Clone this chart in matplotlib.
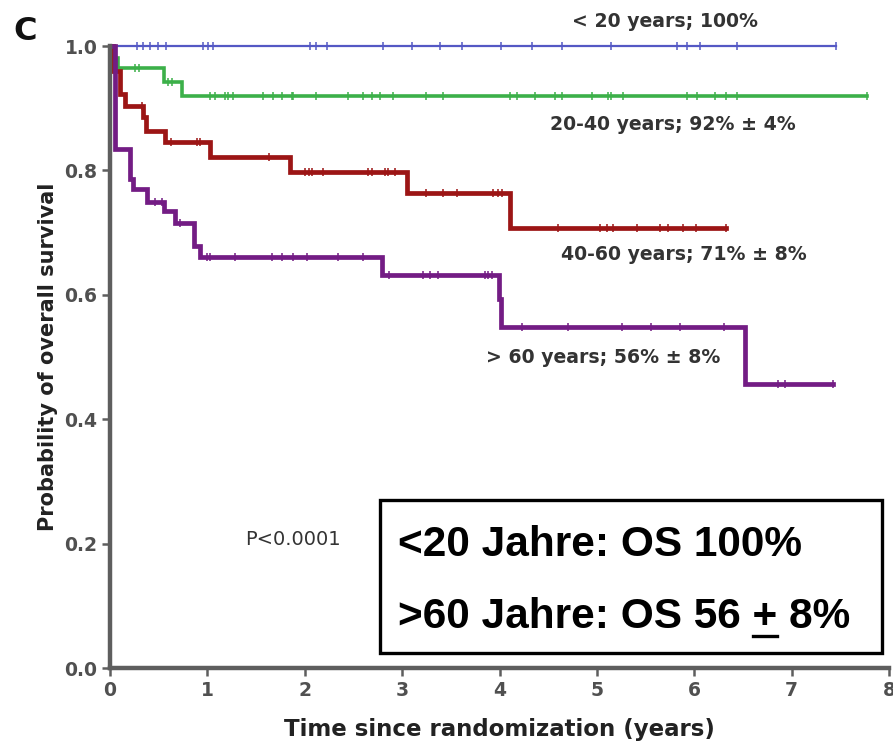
import numpy as np
import matplotlib
matplotlib.use('Agg')
import matplotlib.pyplot as plt
from matplotlib.patches import Rectangle
from matplotlib.lines import Line2D

# Kaplan-Meier steps (time in years, survival)
blue_t = [0, 7.46]
blue_s = [1.0, 1.0]
blue_cens = [0.28, 0.34, 0.41, 0.49, 0.58, 0.96, 1.01, 1.06, 2.05, 2.12, 2.23, 2.80,
             3.10, 3.39, 3.61, 4.02, 4.33, 4.64, 5.15, 5.82, 5.93, 6.06, 6.44, 7.46]

green_t = [0, 0.04, 0.08, 0.55, 0.74, 7.77]
green_s = [1.0, 0.98, 0.965, 0.942, 0.919, 0.919]
green_cens = [0.26, 0.30, 0.60, 0.64, 1.03, 1.08, 1.18, 1.21, 1.26, 1.57, 1.67, 1.77,
              1.87, 1.88, 2.12, 2.44, 2.60, 2.69, 2.77, 2.91, 3.25, 3.42, 4.11, 4.18,
              4.36, 4.57, 4.64, 4.95, 5.11, 5.15, 5.27, 5.93, 6.03, 6.21, 6.33, 6.44, 7.77]

red_t = [0, 0.03, 0.10, 0.15, 0.34, 0.37, 0.56, 1.03, 1.85, 3.05, 4.11, 6.33]
red_s = [1.0, 0.96, 0.923, 0.903, 0.886, 0.863, 0.845, 0.821, 0.797, 0.763, 0.708, 0.708]
red_cens = [0.33, 0.63, 0.89, 0.92, 1.63, 2.00, 2.04, 2.07, 2.19, 2.65, 2.69, 2.82,
            2.86, 2.93, 3.25, 3.42, 3.56, 3.93, 3.98, 4.03, 4.60, 5.03, 5.10, 5.17,
            5.41, 5.65, 5.73, 5.88, 6.02, 6.33]

purple_t = [0, 0.05, 0.21, 0.24, 0.38, 0.55, 0.67, 0.86, 0.92, 2.79, 3.99, 4.02, 6.52, 7.42]
purple_s = [1.0, 0.834, 0.786, 0.770, 0.750, 0.734, 0.716, 0.678, 0.660, 0.632, 0.593,
            0.548, 0.456, 0.456]
purple_cens = [0.46, 0.53, 0.72, 1.00, 1.03, 1.28, 1.66, 1.77, 1.88, 2.02, 2.34, 2.60,
               2.87, 3.21, 3.29, 3.37, 3.85, 3.88, 3.92, 4.23, 4.70, 5.26, 5.56, 5.85,
               6.31, 6.86, 6.93, 7.42]

groups = ['< 20 years; 100%', '20-40 years; 92% \u00b1 4%',
          '40-60 years; 71% \u00b1 8%', '> 60 years; 56% \u00b1 8%']
label_pos = [(5.70, 1.040), (5.78, 0.873), (5.89, 0.665), (5.06, 0.499)]

xticks = [0, 1, 2, 3, 4, 5, 6, 7, 8]
yticks = [0.0, 0.2, 0.4, 0.6, 0.8, 1.0]

W, H = 893, 744
fig = plt.figure(figsize=(W / 100, H / 100), dpi=100)
ax = fig.add_axes([110 / W, 1 - 668 / H, (889 - 110) / W, (668 - 46) / H])

curves = [
    (blue_t, blue_s, blue_cens, '#5458c4', 1.6),
    (green_t, green_s, green_cens, '#3cb049', 2.6),
    (red_t, red_s, red_cens, '#9c1515', 3.4),
    (purple_t, purple_s, purple_cens, '#731c84', 3.4),
]
for t, s, cens, col, lw in curves:
    t = np.array(t); s = np.array(s)
    ax.plot(t, s, drawstyle='steps-post', color=col, lw=lw, clip_on=False,
            solid_joinstyle='miter')
    idx = np.searchsorted(t, cens, side='right') - 1
    ax.plot(cens, s[idx], ls='none', marker='|', ms=5.5, mew=1.1, color=col,
            clip_on=False)

ax.set_xlim(0, 8)
ax.set_ylim(0, 1.0)
ax.set_xticks(xticks)
ax.set_yticks(yticks)
ax.set_xticklabels([str(v) for v in xticks])
ax.set_yticklabels(['%.1f' % v for v in yticks])
for sp in ['top', 'right']:
    ax.spines[sp].set_visible(False)
for sp in ['left', 'bottom']:
    ax.spines[sp].set_color('#5e5e5e')
    ax.spines[sp].set_linewidth(3.2)
ax.tick_params(direction='out', length=6, width=1.8, color='#5e5e5e',
               labelsize=13.5, labelcolor='#505050', pad=3)
for lab in ax.get_xticklabels() + ax.get_yticklabels():
    lab.set_fontweight('bold')

ax.set_xlabel('Time since randomization (years)', fontsize=16.5, fontweight='bold',
              color='#222222', labelpad=13)
ax.set_ylabel('Probability of overall survival', fontsize=15, fontweight='bold',
              color='#222222', labelpad=5)

for txt, (x, y) in zip(groups, label_pos):
    ax.text(x, y, txt, ha='center', va='center', fontsize=13.6, fontweight='bold',
            color='#333333', clip_on=False)
ax.text(1.88, 0.206, 'P<0.0001', ha='center', va='center', fontsize=14,
        color='#333333')

fig.text(25 / W, 1 - 32 / H, 'C', ha='center', va='center', fontsize=23,
         fontweight='bold', color='#111111')

# boxed summary
fig.patches.append(Rectangle((380 / W, 1 - 653 / H), (882 - 380) / W, (653 - 500) / H,
                             transform=fig.transFigure, fill=True, facecolor='white',
                             edgecolor='black', lw=2.4))
box_font = dict(fontsize=30.5, fontweight='bold', family='Liberation Sans', color='black')
fig.text(398 / W, 1 - 556 / H, '<20 Jahre: OS 100%', ha='left', va='baseline', **box_font)
line2 = '>60 Jahre: OS 56 + 8%'
fig.text(398 / W, 1 - 628 / H, line2, ha='left', va='baseline', **box_font)

# underline the "+" (measure prefix width)
renderer = fig.canvas.get_renderer()
tmp1 = fig.text(398 / W, 1 - 628 / H, '>60 Jahre: OS 56 +', ha='left', va='baseline', **box_font)
tmp2 = fig.text(0, 0, '+', ha='left', va='baseline', **box_font)
r1 = tmp1.get_window_extent(renderer)
r2 = tmp2.get_window_extent(renderer)
tmp1.remove(); tmp2.remove()
x_right = r1.x1
x_left = x_right - r2.width
fig.lines.append(Line2D([x_left / W, x_right / W], [1 - 636 / H, 1 - 636 / H],
                        transform=fig.transFigure, color='black', lw=2.4))

fig.savefig('out.png', dpi=100)
